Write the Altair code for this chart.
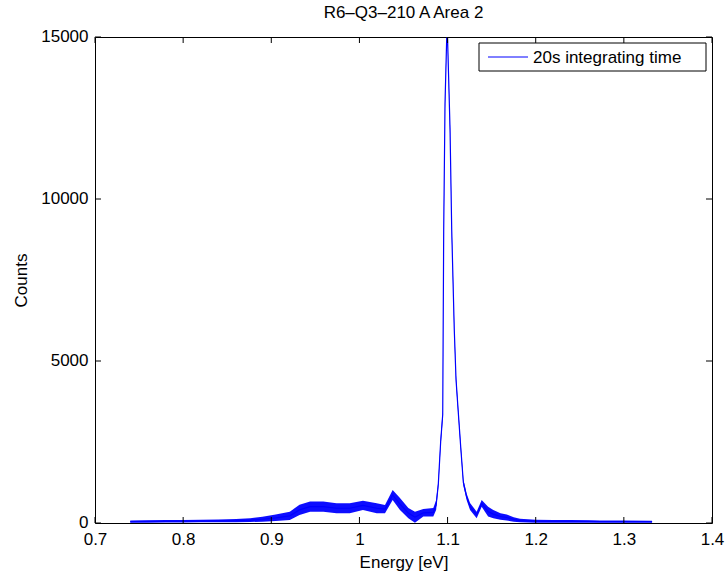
import altair as alt
import pandas as pd

# Spectrum: energy, lower and upper envelope of the noisy trace
energy = [0.740, 0.760, 0.780, 0.800, 0.820, 0.840, 0.860, 0.876, 0.890, 0.905,
          0.921, 0.932, 0.944, 0.959, 0.974, 0.989, 1.004, 1.0196, 1.029, 1.0377,
          1.046, 1.0555, 1.063, 1.0725, 1.0838, 1.087, 1.0895, 1.0922, 1.0945,
          1.0956, 1.0971, 1.0990, 1.1000, 1.1028, 1.1047, 1.1076, 1.1096, 1.1122,
          1.1149, 1.1179, 1.1217, 1.1255, 1.133, 1.1387, 1.146, 1.1519, 1.160,
          1.1671, 1.175, 1.1822, 1.200, 1.220, 1.240, 1.260, 1.2729, 1.300, 1.332]
low = [10, 10, 15, 15, 20, 20, 25, 30, 40, 60,
       90, 250, 350, 350, 300, 300, 400, 300, 300, 710,
       400, 150, 10, 200, 200, 400, 1100, 2400, 3200,
       8800, 12800, 14900, 14900, 12000, 8900, 5850, 4300, 3300,
       2250, 1150, 700, 400, 150, 500, 200, 150, 100,
       80, 40, 20, 10, 10, 10, 10, 10, 10, 10]
high = [80, 85, 90, 95, 100, 110, 120, 150, 190, 260,
        350, 560, 660, 660, 610, 610, 690, 610, 555, 1020,
        770, 460, 350, 430, 460, 700, 1300, 2650, 3500,
        9200, 13100, 15000, 15000, 12300, 9200, 6100, 4550, 3500,
        2450, 1350, 900, 620, 350, 710, 500, 400, 300,
        260, 180, 130, 100, 95, 90, 85, 80, 80, 70]

x_ticks = [0.7, 0.8, 0.9, 1.0, 1.1, 1.2, 1.3, 1.4]
y_ticks = [0, 5000, 10000, 15000]
series_name = "20s integrating time"
title_text = "R6\u2013Q3\u2013210 A Area 2"

df = pd.DataFrame({"E": energy, "low": low, "high": high})
df["mid"] = (df["low"] + df["high"]) / 2
xt = pd.DataFrame({"v": x_ticks})
yt = pd.DataFrame({"v": y_ticks})
leg = pd.DataFrame({"label": [series_name]})

W, H = 617, 486
FONT = "Liberation Sans"
FS = 17
BLUE = "#0000ff"

xscale = alt.Scale(domain=[0.7, 1.4], nice=False, zero=False)
yscale = alt.Scale(domain=[0, 15000], nice=False)

xaxis = alt.Axis(values=x_ticks, format=".1~f", ticks=False, domain=False, grid=False,
                 labelPadding=8, labelFont=FONT, labelFontSize=FS, labelColor="black",
                 labelFlush=False, labelOverlap=False,
                 title="Energy [eV]", titlePadding=7, titleFont=FONT, titleFontSize=FS,
                 titleFontWeight="normal", titleColor="black")
yaxis = alt.Axis(values=y_ticks, format="d", ticks=False, domain=False, grid=False,
                 labelPadding=7, labelFont=FONT, labelFontSize=FS, labelColor="black",
                 labelFlush=False, labelOverlap=False, labelOffset=-1,
                 title="Counts", titlePadding=10, titleFont=FONT, titleFontSize=FS,
                 titleFontWeight="normal", titleColor="black")

X = alt.X("E:Q", scale=xscale, axis=xaxis, title="Energy [eV]")
band = alt.Chart(df).mark_area(color=BLUE, opacity=0.95, clip=True).encode(
    x=X,
    y=alt.Y("low:Q", scale=yscale, axis=yaxis, title="Counts"),
    y2="high:Q",
)

line = alt.Chart(df).mark_line(strokeWidth=1.2, color=BLUE, clip=True).encode(
    x=X,
    y=alt.Y("mid:Q", scale=yscale, axis=yaxis, title="Counts"),
)

tick_len = 6
XT = alt.X("v:Q", scale=xscale, axis=xaxis, title="Energy [eV]")
YT = alt.Y("v:Q", scale=yscale, axis=yaxis, title="Counts")
bot = alt.Chart(xt).mark_rule(color="black", strokeWidth=1).encode(
    x=XT, y=alt.value(H), y2=alt.value(H - tick_len))
top = alt.Chart(xt).mark_rule(color="black", strokeWidth=1).encode(
    x=XT, y=alt.value(0), y2=alt.value(tick_len))
left = alt.Chart(yt).mark_rule(color="black", strokeWidth=1).encode(
    y=YT, x=alt.value(0), x2=alt.value(tick_len))
right = alt.Chart(yt).mark_rule(color="black", strokeWidth=1).encode(
    y=YT, x=alt.value(W), x2=alt.value(W - tick_len))

# legend box drawn by hand (MATLAB style)
leg_box = alt.Chart(leg).mark_rect(fill="white", stroke="black", strokeWidth=1).encode(
    x=alt.value(384), x2=alt.value(611), y=alt.value(6), y2=alt.value(34))
leg_line = alt.Chart(leg).mark_rule(color=BLUE, strokeWidth=1).encode(
    x=alt.value(393), x2=alt.value(433), y=alt.value(20))
leg_text = alt.Chart(leg).mark_text(align="left", baseline="middle", font=FONT,
                                    fontSize=FS, color="black").encode(
    x=alt.value(438), y=alt.value(20.5), text="label:N")

chart = alt.layer(band, line, bot, top, left, right, leg_box, leg_line, leg_text).properties(
    width=W, height=H,
    background="white",
    title=alt.TitleParams(title_text, font=FONT, fontSize=FS, fontWeight="normal",
                          anchor="middle", offset=5, color="black"),
    autosize=alt.AutoSizeParams(type="none"),
    padding={"left": 95, "top": 37, "right": 16, "bottom": 52},
).configure_view(stroke="black", strokeWidth=1)

chart.save("out.html", embed_options={"renderer": "svg", "actions": False})
